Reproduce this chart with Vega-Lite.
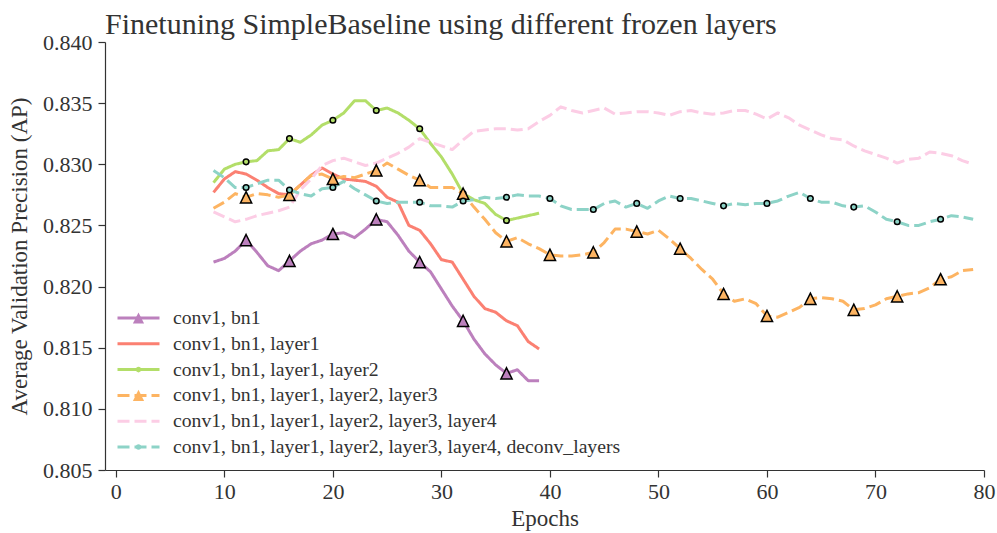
{
  "$schema": "https://vega.github.io/schema/vega-lite/v6.json",
  "width": 879,
  "height": 428,
  "autosize": {"type": "none"},
  "padding": {"left": 105, "top": 42, "right": 13, "bottom": 63},
  "background": "white",
  "title": {
    "text": "Finetuning SimpleBaseline using different frozen layers",
    "anchor": "start",
    "frame": "group",
    "font": "Liberation Serif",
    "fontSize": 30,
    "fontWeight": "normal",
    "color": "#333333",
    "offset": -9
  },
  "config": {
    "view": {"stroke": null},
    "axis": {
      "grid": false,
      "domainColor": "#333333",
      "domainWidth": 1.2,
      "tickColor": "#333333",
      "tickWidth": 1.2,
      "tickSize": 7,
      "labelFont": "Liberation Serif",
      "labelFontSize": 22,
      "labelColor": "#333333",
      "titleFont": "Liberation Serif",
      "titleFontSize": 23,
      "titleFontWeight": "normal",
      "titleColor": "#333333"
    }
  },
  "datasets": {
    "runs": [
      {"series": "conv1, bn1", "epoch": 9, "ap": 0.8220},
      {"series": "conv1, bn1", "epoch": 10, "ap": 0.8223},
      {"series": "conv1, bn1", "epoch": 11, "ap": 0.8229},
      {"series": "conv1, bn1", "epoch": 12, "ap": 0.8238},
      {"series": "conv1, bn1", "epoch": 13, "ap": 0.8228},
      {"series": "conv1, bn1", "epoch": 14, "ap": 0.8217},
      {"series": "conv1, bn1", "epoch": 15, "ap": 0.8213},
      {"series": "conv1, bn1", "epoch": 16, "ap": 0.8221},
      {"series": "conv1, bn1", "epoch": 17, "ap": 0.8229},
      {"series": "conv1, bn1", "epoch": 18, "ap": 0.8235},
      {"series": "conv1, bn1", "epoch": 19, "ap": 0.8238},
      {"series": "conv1, bn1", "epoch": 20, "ap": 0.8243},
      {"series": "conv1, bn1", "epoch": 21, "ap": 0.8244},
      {"series": "conv1, bn1", "epoch": 22, "ap": 0.8240},
      {"series": "conv1, bn1", "epoch": 23, "ap": 0.8247},
      {"series": "conv1, bn1", "epoch": 24, "ap": 0.8255},
      {"series": "conv1, bn1", "epoch": 25, "ap": 0.8253},
      {"series": "conv1, bn1", "epoch": 26, "ap": 0.8242},
      {"series": "conv1, bn1", "epoch": 27, "ap": 0.8229},
      {"series": "conv1, bn1", "epoch": 28, "ap": 0.8220},
      {"series": "conv1, bn1", "epoch": 29, "ap": 0.8212},
      {"series": "conv1, bn1", "epoch": 30, "ap": 0.8198},
      {"series": "conv1, bn1", "epoch": 31, "ap": 0.8184},
      {"series": "conv1, bn1", "epoch": 32, "ap": 0.8172},
      {"series": "conv1, bn1", "epoch": 33, "ap": 0.8157},
      {"series": "conv1, bn1", "epoch": 34, "ap": 0.8145},
      {"series": "conv1, bn1", "epoch": 35, "ap": 0.8136},
      {"series": "conv1, bn1", "epoch": 36, "ap": 0.8129},
      {"series": "conv1, bn1", "epoch": 37, "ap": 0.8132},
      {"series": "conv1, bn1", "epoch": 38, "ap": 0.8123},
      {"series": "conv1, bn1", "epoch": 39, "ap": 0.8123},

      {"series": "conv1, bn1, layer1", "epoch": 9, "ap": 0.8277},
      {"series": "conv1, bn1, layer1", "epoch": 10, "ap": 0.8288},
      {"series": "conv1, bn1, layer1", "epoch": 11, "ap": 0.8294},
      {"series": "conv1, bn1, layer1", "epoch": 12, "ap": 0.8292},
      {"series": "conv1, bn1, layer1", "epoch": 13, "ap": 0.8287},
      {"series": "conv1, bn1, layer1", "epoch": 14, "ap": 0.8281},
      {"series": "conv1, bn1, layer1", "epoch": 15, "ap": 0.8276},
      {"series": "conv1, bn1, layer1", "epoch": 16, "ap": 0.8275},
      {"series": "conv1, bn1, layer1", "epoch": 17, "ap": 0.8283},
      {"series": "conv1, bn1, layer1", "epoch": 18, "ap": 0.8291},
      {"series": "conv1, bn1, layer1", "epoch": 19, "ap": 0.8297},
      {"series": "conv1, bn1, layer1", "epoch": 20, "ap": 0.8292},
      {"series": "conv1, bn1, layer1", "epoch": 21, "ap": 0.8288},
      {"series": "conv1, bn1, layer1", "epoch": 22, "ap": 0.8287},
      {"series": "conv1, bn1, layer1", "epoch": 23, "ap": 0.8286},
      {"series": "conv1, bn1, layer1", "epoch": 24, "ap": 0.8282},
      {"series": "conv1, bn1, layer1", "epoch": 25, "ap": 0.8273},
      {"series": "conv1, bn1, layer1", "epoch": 26, "ap": 0.8269},
      {"series": "conv1, bn1, layer1", "epoch": 27, "ap": 0.8250},
      {"series": "conv1, bn1, layer1", "epoch": 28, "ap": 0.8246},
      {"series": "conv1, bn1, layer1", "epoch": 29, "ap": 0.8235},
      {"series": "conv1, bn1, layer1", "epoch": 30, "ap": 0.8222},
      {"series": "conv1, bn1, layer1", "epoch": 31, "ap": 0.8220},
      {"series": "conv1, bn1, layer1", "epoch": 32, "ap": 0.8206},
      {"series": "conv1, bn1, layer1", "epoch": 33, "ap": 0.8192},
      {"series": "conv1, bn1, layer1", "epoch": 34, "ap": 0.8182},
      {"series": "conv1, bn1, layer1", "epoch": 35, "ap": 0.8179},
      {"series": "conv1, bn1, layer1", "epoch": 36, "ap": 0.8172},
      {"series": "conv1, bn1, layer1", "epoch": 37, "ap": 0.8168},
      {"series": "conv1, bn1, layer1", "epoch": 38, "ap": 0.8155},
      {"series": "conv1, bn1, layer1", "epoch": 39, "ap": 0.8149},

      {"series": "conv1, bn1, layer1, layer2", "epoch": 9, "ap": 0.8285},
      {"series": "conv1, bn1, layer1, layer2", "epoch": 10, "ap": 0.8296},
      {"series": "conv1, bn1, layer1, layer2", "epoch": 11, "ap": 0.8300},
      {"series": "conv1, bn1, layer1, layer2", "epoch": 12, "ap": 0.8302},
      {"series": "conv1, bn1, layer1, layer2", "epoch": 13, "ap": 0.8303},
      {"series": "conv1, bn1, layer1, layer2", "epoch": 14, "ap": 0.8311},
      {"series": "conv1, bn1, layer1, layer2", "epoch": 15, "ap": 0.8312},
      {"series": "conv1, bn1, layer1, layer2", "epoch": 16, "ap": 0.8321},
      {"series": "conv1, bn1, layer1, layer2", "epoch": 17, "ap": 0.8318},
      {"series": "conv1, bn1, layer1, layer2", "epoch": 18, "ap": 0.8324},
      {"series": "conv1, bn1, layer1, layer2", "epoch": 19, "ap": 0.8332},
      {"series": "conv1, bn1, layer1, layer2", "epoch": 20, "ap": 0.8336},
      {"series": "conv1, bn1, layer1, layer2", "epoch": 21, "ap": 0.8342},
      {"series": "conv1, bn1, layer1, layer2", "epoch": 22, "ap": 0.8352},
      {"series": "conv1, bn1, layer1, layer2", "epoch": 23, "ap": 0.8352},
      {"series": "conv1, bn1, layer1, layer2", "epoch": 24, "ap": 0.8344},
      {"series": "conv1, bn1, layer1, layer2", "epoch": 25, "ap": 0.8346},
      {"series": "conv1, bn1, layer1, layer2", "epoch": 26, "ap": 0.8342},
      {"series": "conv1, bn1, layer1, layer2", "epoch": 27, "ap": 0.8336},
      {"series": "conv1, bn1, layer1, layer2", "epoch": 28, "ap": 0.8329},
      {"series": "conv1, bn1, layer1, layer2", "epoch": 29, "ap": 0.8317},
      {"series": "conv1, bn1, layer1, layer2", "epoch": 30, "ap": 0.8306},
      {"series": "conv1, bn1, layer1, layer2", "epoch": 31, "ap": 0.8292},
      {"series": "conv1, bn1, layer1, layer2", "epoch": 32, "ap": 0.8276},
      {"series": "conv1, bn1, layer1, layer2", "epoch": 33, "ap": 0.8271},
      {"series": "conv1, bn1, layer1, layer2", "epoch": 34, "ap": 0.8268},
      {"series": "conv1, bn1, layer1, layer2", "epoch": 35, "ap": 0.8259},
      {"series": "conv1, bn1, layer1, layer2", "epoch": 36, "ap": 0.8254},
      {"series": "conv1, bn1, layer1, layer2", "epoch": 37, "ap": 0.8256},
      {"series": "conv1, bn1, layer1, layer2", "epoch": 38, "ap": 0.8258},
      {"series": "conv1, bn1, layer1, layer2", "epoch": 39, "ap": 0.8260},

      {"series": "conv1, bn1, layer1, layer2, layer3", "epoch": 9, "ap": 0.8264},
      {"series": "conv1, bn1, layer1, layer2, layer3", "epoch": 10, "ap": 0.8269},
      {"series": "conv1, bn1, layer1, layer2, layer3", "epoch": 11, "ap": 0.8276},
      {"series": "conv1, bn1, layer1, layer2, layer3", "epoch": 12, "ap": 0.8273},
      {"series": "conv1, bn1, layer1, layer2, layer3", "epoch": 13, "ap": 0.8276},
      {"series": "conv1, bn1, layer1, layer2, layer3", "epoch": 14, "ap": 0.8275},
      {"series": "conv1, bn1, layer1, layer2, layer3", "epoch": 15, "ap": 0.8273},
      {"series": "conv1, bn1, layer1, layer2, layer3", "epoch": 16, "ap": 0.8275},
      {"series": "conv1, bn1, layer1, layer2, layer3", "epoch": 17, "ap": 0.8283},
      {"series": "conv1, bn1, layer1, layer2, layer3", "epoch": 18, "ap": 0.8291},
      {"series": "conv1, bn1, layer1, layer2, layer3", "epoch": 19, "ap": 0.8292},
      {"series": "conv1, bn1, layer1, layer2, layer3", "epoch": 20, "ap": 0.8288},
      {"series": "conv1, bn1, layer1, layer2, layer3", "epoch": 21, "ap": 0.8290},
      {"series": "conv1, bn1, layer1, layer2, layer3", "epoch": 22, "ap": 0.8289},
      {"series": "conv1, bn1, layer1, layer2, layer3", "epoch": 23, "ap": 0.8292},
      {"series": "conv1, bn1, layer1, layer2, layer3", "epoch": 24, "ap": 0.8295},
      {"series": "conv1, bn1, layer1, layer2, layer3", "epoch": 25, "ap": 0.8301},
      {"series": "conv1, bn1, layer1, layer2, layer3", "epoch": 26, "ap": 0.8296},
      {"series": "conv1, bn1, layer1, layer2, layer3", "epoch": 27, "ap": 0.8291},
      {"series": "conv1, bn1, layer1, layer2, layer3", "epoch": 28, "ap": 0.8287},
      {"series": "conv1, bn1, layer1, layer2, layer3", "epoch": 29, "ap": 0.8281},
      {"series": "conv1, bn1, layer1, layer2, layer3", "epoch": 30, "ap": 0.8281},
      {"series": "conv1, bn1, layer1, layer2, layer3", "epoch": 31, "ap": 0.8281},
      {"series": "conv1, bn1, layer1, layer2, layer3", "epoch": 32, "ap": 0.8276},
      {"series": "conv1, bn1, layer1, layer2, layer3", "epoch": 33, "ap": 0.8265},
      {"series": "conv1, bn1, layer1, layer2, layer3", "epoch": 34, "ap": 0.8255},
      {"series": "conv1, bn1, layer1, layer2, layer3", "epoch": 35, "ap": 0.8244},
      {"series": "conv1, bn1, layer1, layer2, layer3", "epoch": 36, "ap": 0.8237},
      {"series": "conv1, bn1, layer1, layer2, layer3", "epoch": 37, "ap": 0.8240},
      {"series": "conv1, bn1, layer1, layer2, layer3", "epoch": 38, "ap": 0.8235},
      {"series": "conv1, bn1, layer1, layer2, layer3", "epoch": 39, "ap": 0.8231},
      {"series": "conv1, bn1, layer1, layer2, layer3", "epoch": 40, "ap": 0.8226},
      {"series": "conv1, bn1, layer1, layer2, layer3", "epoch": 41, "ap": 0.8225},
      {"series": "conv1, bn1, layer1, layer2, layer3", "epoch": 42, "ap": 0.8225},
      {"series": "conv1, bn1, layer1, layer2, layer3", "epoch": 43, "ap": 0.8226},
      {"series": "conv1, bn1, layer1, layer2, layer3", "epoch": 44, "ap": 0.8228},
      {"series": "conv1, bn1, layer1, layer2, layer3", "epoch": 45, "ap": 0.8236},
      {"series": "conv1, bn1, layer1, layer2, layer3", "epoch": 46, "ap": 0.8247},
      {"series": "conv1, bn1, layer1, layer2, layer3", "epoch": 47, "ap": 0.8247},
      {"series": "conv1, bn1, layer1, layer2, layer3", "epoch": 48, "ap": 0.8245},
      {"series": "conv1, bn1, layer1, layer2, layer3", "epoch": 49, "ap": 0.8243},
      {"series": "conv1, bn1, layer1, layer2, layer3", "epoch": 50, "ap": 0.8246},
      {"series": "conv1, bn1, layer1, layer2, layer3", "epoch": 51, "ap": 0.8239},
      {"series": "conv1, bn1, layer1, layer2, layer3", "epoch": 52, "ap": 0.8231},
      {"series": "conv1, bn1, layer1, layer2, layer3", "epoch": 53, "ap": 0.8223},
      {"series": "conv1, bn1, layer1, layer2, layer3", "epoch": 54, "ap": 0.8214},
      {"series": "conv1, bn1, layer1, layer2, layer3", "epoch": 55, "ap": 0.8206},
      {"series": "conv1, bn1, layer1, layer2, layer3", "epoch": 56, "ap": 0.8194},
      {"series": "conv1, bn1, layer1, layer2, layer3", "epoch": 57, "ap": 0.8188},
      {"series": "conv1, bn1, layer1, layer2, layer3", "epoch": 58, "ap": 0.8190},
      {"series": "conv1, bn1, layer1, layer2, layer3", "epoch": 59, "ap": 0.8186},
      {"series": "conv1, bn1, layer1, layer2, layer3", "epoch": 60, "ap": 0.8176},
      {"series": "conv1, bn1, layer1, layer2, layer3", "epoch": 61, "ap": 0.8175},
      {"series": "conv1, bn1, layer1, layer2, layer3", "epoch": 62, "ap": 0.8179},
      {"series": "conv1, bn1, layer1, layer2, layer3", "epoch": 63, "ap": 0.8183},
      {"series": "conv1, bn1, layer1, layer2, layer3", "epoch": 64, "ap": 0.8190},
      {"series": "conv1, bn1, layer1, layer2, layer3", "epoch": 65, "ap": 0.8191},
      {"series": "conv1, bn1, layer1, layer2, layer3", "epoch": 66, "ap": 0.8190},
      {"series": "conv1, bn1, layer1, layer2, layer3", "epoch": 67, "ap": 0.8188},
      {"series": "conv1, bn1, layer1, layer2, layer3", "epoch": 68, "ap": 0.8181},
      {"series": "conv1, bn1, layer1, layer2, layer3", "epoch": 69, "ap": 0.8182},
      {"series": "conv1, bn1, layer1, layer2, layer3", "epoch": 70, "ap": 0.8185},
      {"series": "conv1, bn1, layer1, layer2, layer3", "epoch": 71, "ap": 0.8190},
      {"series": "conv1, bn1, layer1, layer2, layer3", "epoch": 72, "ap": 0.8192},
      {"series": "conv1, bn1, layer1, layer2, layer3", "epoch": 73, "ap": 0.8194},
      {"series": "conv1, bn1, layer1, layer2, layer3", "epoch": 74, "ap": 0.8195},
      {"series": "conv1, bn1, layer1, layer2, layer3", "epoch": 75, "ap": 0.8199},
      {"series": "conv1, bn1, layer1, layer2, layer3", "epoch": 76, "ap": 0.8206},
      {"series": "conv1, bn1, layer1, layer2, layer3", "epoch": 77, "ap": 0.8208},
      {"series": "conv1, bn1, layer1, layer2, layer3", "epoch": 78, "ap": 0.8213},
      {"series": "conv1, bn1, layer1, layer2, layer3", "epoch": 79, "ap": 0.8214},

      {"series": "conv1, bn1, layer1, layer2, layer3, layer4", "epoch": 9, "ap": 0.8261},
      {"series": "conv1, bn1, layer1, layer2, layer3, layer4", "epoch": 10, "ap": 0.8257},
      {"series": "conv1, bn1, layer1, layer2, layer3, layer4", "epoch": 11, "ap": 0.8253},
      {"series": "conv1, bn1, layer1, layer2, layer3, layer4", "epoch": 12, "ap": 0.8255},
      {"series": "conv1, bn1, layer1, layer2, layer3, layer4", "epoch": 13, "ap": 0.8258},
      {"series": "conv1, bn1, layer1, layer2, layer3, layer4", "epoch": 14, "ap": 0.8260},
      {"series": "conv1, bn1, layer1, layer2, layer3, layer4", "epoch": 15, "ap": 0.8262},
      {"series": "conv1, bn1, layer1, layer2, layer3, layer4", "epoch": 16, "ap": 0.8265},
      {"series": "conv1, bn1, layer1, layer2, layer3, layer4", "epoch": 17, "ap": 0.8279},
      {"series": "conv1, bn1, layer1, layer2, layer3, layer4", "epoch": 18, "ap": 0.8288},
      {"series": "conv1, bn1, layer1, layer2, layer3, layer4", "epoch": 19, "ap": 0.8299},
      {"series": "conv1, bn1, layer1, layer2, layer3, layer4", "epoch": 20, "ap": 0.8303},
      {"series": "conv1, bn1, layer1, layer2, layer3, layer4", "epoch": 21, "ap": 0.8305},
      {"series": "conv1, bn1, layer1, layer2, layer3, layer4", "epoch": 22, "ap": 0.8302},
      {"series": "conv1, bn1, layer1, layer2, layer3, layer4", "epoch": 23, "ap": 0.8299},
      {"series": "conv1, bn1, layer1, layer2, layer3, layer4", "epoch": 24, "ap": 0.8301},
      {"series": "conv1, bn1, layer1, layer2, layer3, layer4", "epoch": 25, "ap": 0.8305},
      {"series": "conv1, bn1, layer1, layer2, layer3, layer4", "epoch": 26, "ap": 0.8309},
      {"series": "conv1, bn1, layer1, layer2, layer3, layer4", "epoch": 27, "ap": 0.8314},
      {"series": "conv1, bn1, layer1, layer2, layer3, layer4", "epoch": 28, "ap": 0.8321},
      {"series": "conv1, bn1, layer1, layer2, layer3, layer4", "epoch": 29, "ap": 0.8318},
      {"series": "conv1, bn1, layer1, layer2, layer3, layer4", "epoch": 30, "ap": 0.8315},
      {"series": "conv1, bn1, layer1, layer2, layer3, layer4", "epoch": 31, "ap": 0.8312},
      {"series": "conv1, bn1, layer1, layer2, layer3, layer4", "epoch": 32, "ap": 0.8320},
      {"series": "conv1, bn1, layer1, layer2, layer3, layer4", "epoch": 33, "ap": 0.8327},
      {"series": "conv1, bn1, layer1, layer2, layer3, layer4", "epoch": 34, "ap": 0.8328},
      {"series": "conv1, bn1, layer1, layer2, layer3, layer4", "epoch": 35, "ap": 0.8329},
      {"series": "conv1, bn1, layer1, layer2, layer3, layer4", "epoch": 36, "ap": 0.8329},
      {"series": "conv1, bn1, layer1, layer2, layer3, layer4", "epoch": 37, "ap": 0.8328},
      {"series": "conv1, bn1, layer1, layer2, layer3, layer4", "epoch": 38, "ap": 0.8329},
      {"series": "conv1, bn1, layer1, layer2, layer3, layer4", "epoch": 39, "ap": 0.8335},
      {"series": "conv1, bn1, layer1, layer2, layer3, layer4", "epoch": 40, "ap": 0.8340},
      {"series": "conv1, bn1, layer1, layer2, layer3, layer4", "epoch": 41, "ap": 0.8347},
      {"series": "conv1, bn1, layer1, layer2, layer3, layer4", "epoch": 42, "ap": 0.8344},
      {"series": "conv1, bn1, layer1, layer2, layer3, layer4", "epoch": 43, "ap": 0.8342},
      {"series": "conv1, bn1, layer1, layer2, layer3, layer4", "epoch": 44, "ap": 0.8344},
      {"series": "conv1, bn1, layer1, layer2, layer3, layer4", "epoch": 45, "ap": 0.8346},
      {"series": "conv1, bn1, layer1, layer2, layer3, layer4", "epoch": 46, "ap": 0.8341},
      {"series": "conv1, bn1, layer1, layer2, layer3, layer4", "epoch": 47, "ap": 0.8342},
      {"series": "conv1, bn1, layer1, layer2, layer3, layer4", "epoch": 48, "ap": 0.8343},
      {"series": "conv1, bn1, layer1, layer2, layer3, layer4", "epoch": 49, "ap": 0.8343},
      {"series": "conv1, bn1, layer1, layer2, layer3, layer4", "epoch": 50, "ap": 0.8342},
      {"series": "conv1, bn1, layer1, layer2, layer3, layer4", "epoch": 51, "ap": 0.8340},
      {"series": "conv1, bn1, layer1, layer2, layer3, layer4", "epoch": 52, "ap": 0.8343},
      {"series": "conv1, bn1, layer1, layer2, layer3, layer4", "epoch": 53, "ap": 0.8344},
      {"series": "conv1, bn1, layer1, layer2, layer3, layer4", "epoch": 54, "ap": 0.8342},
      {"series": "conv1, bn1, layer1, layer2, layer3, layer4", "epoch": 55, "ap": 0.8341},
      {"series": "conv1, bn1, layer1, layer2, layer3, layer4", "epoch": 56, "ap": 0.8342},
      {"series": "conv1, bn1, layer1, layer2, layer3, layer4", "epoch": 57, "ap": 0.8344},
      {"series": "conv1, bn1, layer1, layer2, layer3, layer4", "epoch": 58, "ap": 0.8344},
      {"series": "conv1, bn1, layer1, layer2, layer3, layer4", "epoch": 59, "ap": 0.8341},
      {"series": "conv1, bn1, layer1, layer2, layer3, layer4", "epoch": 60, "ap": 0.8337},
      {"series": "conv1, bn1, layer1, layer2, layer3, layer4", "epoch": 61, "ap": 0.8342},
      {"series": "conv1, bn1, layer1, layer2, layer3, layer4", "epoch": 62, "ap": 0.8338},
      {"series": "conv1, bn1, layer1, layer2, layer3, layer4", "epoch": 63, "ap": 0.8332},
      {"series": "conv1, bn1, layer1, layer2, layer3, layer4", "epoch": 64, "ap": 0.8328},
      {"series": "conv1, bn1, layer1, layer2, layer3, layer4", "epoch": 65, "ap": 0.8324},
      {"series": "conv1, bn1, layer1, layer2, layer3, layer4", "epoch": 66, "ap": 0.8321},
      {"series": "conv1, bn1, layer1, layer2, layer3, layer4", "epoch": 67, "ap": 0.8320},
      {"series": "conv1, bn1, layer1, layer2, layer3, layer4", "epoch": 68, "ap": 0.8315},
      {"series": "conv1, bn1, layer1, layer2, layer3, layer4", "epoch": 69, "ap": 0.8311},
      {"series": "conv1, bn1, layer1, layer2, layer3, layer4", "epoch": 70, "ap": 0.8308},
      {"series": "conv1, bn1, layer1, layer2, layer3, layer4", "epoch": 71, "ap": 0.8305},
      {"series": "conv1, bn1, layer1, layer2, layer3, layer4", "epoch": 72, "ap": 0.8301},
      {"series": "conv1, bn1, layer1, layer2, layer3, layer4", "epoch": 73, "ap": 0.8304},
      {"series": "conv1, bn1, layer1, layer2, layer3, layer4", "epoch": 74, "ap": 0.8305},
      {"series": "conv1, bn1, layer1, layer2, layer3, layer4", "epoch": 75, "ap": 0.8310},
      {"series": "conv1, bn1, layer1, layer2, layer3, layer4", "epoch": 76, "ap": 0.8309},
      {"series": "conv1, bn1, layer1, layer2, layer3, layer4", "epoch": 77, "ap": 0.8307},
      {"series": "conv1, bn1, layer1, layer2, layer3, layer4", "epoch": 78, "ap": 0.8303},
      {"series": "conv1, bn1, layer1, layer2, layer3, layer4", "epoch": 79, "ap": 0.8300},

      {"series": "conv1, bn1, layer1, layer2, layer3, layer4, deconv_layers", "epoch": 9, "ap": 0.8295},
      {"series": "conv1, bn1, layer1, layer2, layer3, layer4, deconv_layers", "epoch": 10, "ap": 0.8289},
      {"series": "conv1, bn1, layer1, layer2, layer3, layer4, deconv_layers", "epoch": 11, "ap": 0.8281},
      {"series": "conv1, bn1, layer1, layer2, layer3, layer4, deconv_layers", "epoch": 12, "ap": 0.8281},
      {"series": "conv1, bn1, layer1, layer2, layer3, layer4, deconv_layers", "epoch": 13, "ap": 0.8284},
      {"series": "conv1, bn1, layer1, layer2, layer3, layer4, deconv_layers", "epoch": 14, "ap": 0.8287},
      {"series": "conv1, bn1, layer1, layer2, layer3, layer4, deconv_layers", "epoch": 15, "ap": 0.8287},
      {"series": "conv1, bn1, layer1, layer2, layer3, layer4, deconv_layers", "epoch": 16, "ap": 0.8279},
      {"series": "conv1, bn1, layer1, layer2, layer3, layer4, deconv_layers", "epoch": 17, "ap": 0.8276},
      {"series": "conv1, bn1, layer1, layer2, layer3, layer4, deconv_layers", "epoch": 18, "ap": 0.8274},
      {"series": "conv1, bn1, layer1, layer2, layer3, layer4, deconv_layers", "epoch": 19, "ap": 0.8280},
      {"series": "conv1, bn1, layer1, layer2, layer3, layer4, deconv_layers", "epoch": 20, "ap": 0.8281},
      {"series": "conv1, bn1, layer1, layer2, layer3, layer4, deconv_layers", "epoch": 21, "ap": 0.8286},
      {"series": "conv1, bn1, layer1, layer2, layer3, layer4, deconv_layers", "epoch": 22, "ap": 0.8280},
      {"series": "conv1, bn1, layer1, layer2, layer3, layer4, deconv_layers", "epoch": 23, "ap": 0.8275},
      {"series": "conv1, bn1, layer1, layer2, layer3, layer4, deconv_layers", "epoch": 24, "ap": 0.8270},
      {"series": "conv1, bn1, layer1, layer2, layer3, layer4, deconv_layers", "epoch": 25, "ap": 0.8268},
      {"series": "conv1, bn1, layer1, layer2, layer3, layer4, deconv_layers", "epoch": 26, "ap": 0.8269},
      {"series": "conv1, bn1, layer1, layer2, layer3, layer4, deconv_layers", "epoch": 27, "ap": 0.8269},
      {"series": "conv1, bn1, layer1, layer2, layer3, layer4, deconv_layers", "epoch": 28, "ap": 0.8269},
      {"series": "conv1, bn1, layer1, layer2, layer3, layer4, deconv_layers", "epoch": 29, "ap": 0.8266},
      {"series": "conv1, bn1, layer1, layer2, layer3, layer4, deconv_layers", "epoch": 30, "ap": 0.8266},
      {"series": "conv1, bn1, layer1, layer2, layer3, layer4, deconv_layers", "epoch": 31, "ap": 0.8265},
      {"series": "conv1, bn1, layer1, layer2, layer3, layer4, deconv_layers", "epoch": 32, "ap": 0.8270},
      {"series": "conv1, bn1, layer1, layer2, layer3, layer4, deconv_layers", "epoch": 33, "ap": 0.8271},
      {"series": "conv1, bn1, layer1, layer2, layer3, layer4, deconv_layers", "epoch": 34, "ap": 0.8273},
      {"series": "conv1, bn1, layer1, layer2, layer3, layer4, deconv_layers", "epoch": 35, "ap": 0.8272},
      {"series": "conv1, bn1, layer1, layer2, layer3, layer4, deconv_layers", "epoch": 36, "ap": 0.8273},
      {"series": "conv1, bn1, layer1, layer2, layer3, layer4, deconv_layers", "epoch": 37, "ap": 0.8275},
      {"series": "conv1, bn1, layer1, layer2, layer3, layer4, deconv_layers", "epoch": 38, "ap": 0.8274},
      {"series": "conv1, bn1, layer1, layer2, layer3, layer4, deconv_layers", "epoch": 39, "ap": 0.8274},
      {"series": "conv1, bn1, layer1, layer2, layer3, layer4, deconv_layers", "epoch": 40, "ap": 0.8272},
      {"series": "conv1, bn1, layer1, layer2, layer3, layer4, deconv_layers", "epoch": 41, "ap": 0.8266},
      {"series": "conv1, bn1, layer1, layer2, layer3, layer4, deconv_layers", "epoch": 42, "ap": 0.8263},
      {"series": "conv1, bn1, layer1, layer2, layer3, layer4, deconv_layers", "epoch": 43, "ap": 0.8263},
      {"series": "conv1, bn1, layer1, layer2, layer3, layer4, deconv_layers", "epoch": 44, "ap": 0.8263},
      {"series": "conv1, bn1, layer1, layer2, layer3, layer4, deconv_layers", "epoch": 45, "ap": 0.8268},
      {"series": "conv1, bn1, layer1, layer2, layer3, layer4, deconv_layers", "epoch": 46, "ap": 0.8270},
      {"series": "conv1, bn1, layer1, layer2, layer3, layer4, deconv_layers", "epoch": 47, "ap": 0.8265},
      {"series": "conv1, bn1, layer1, layer2, layer3, layer4, deconv_layers", "epoch": 48, "ap": 0.8268},
      {"series": "conv1, bn1, layer1, layer2, layer3, layer4, deconv_layers", "epoch": 49, "ap": 0.8264},
      {"series": "conv1, bn1, layer1, layer2, layer3, layer4, deconv_layers", "epoch": 50, "ap": 0.8270},
      {"series": "conv1, bn1, layer1, layer2, layer3, layer4, deconv_layers", "epoch": 51, "ap": 0.8274},
      {"series": "conv1, bn1, layer1, layer2, layer3, layer4, deconv_layers", "epoch": 52, "ap": 0.8272},
      {"series": "conv1, bn1, layer1, layer2, layer3, layer4, deconv_layers", "epoch": 53, "ap": 0.8272},
      {"series": "conv1, bn1, layer1, layer2, layer3, layer4, deconv_layers", "epoch": 54, "ap": 0.8270},
      {"series": "conv1, bn1, layer1, layer2, layer3, layer4, deconv_layers", "epoch": 55, "ap": 0.8268},
      {"series": "conv1, bn1, layer1, layer2, layer3, layer4, deconv_layers", "epoch": 56, "ap": 0.8266},
      {"series": "conv1, bn1, layer1, layer2, layer3, layer4, deconv_layers", "epoch": 57, "ap": 0.8268},
      {"series": "conv1, bn1, layer1, layer2, layer3, layer4, deconv_layers", "epoch": 58, "ap": 0.8267},
      {"series": "conv1, bn1, layer1, layer2, layer3, layer4, deconv_layers", "epoch": 59, "ap": 0.8268},
      {"series": "conv1, bn1, layer1, layer2, layer3, layer4, deconv_layers", "epoch": 60, "ap": 0.8268},
      {"series": "conv1, bn1, layer1, layer2, layer3, layer4, deconv_layers", "epoch": 61, "ap": 0.8270},
      {"series": "conv1, bn1, layer1, layer2, layer3, layer4, deconv_layers", "epoch": 62, "ap": 0.8274},
      {"series": "conv1, bn1, layer1, layer2, layer3, layer4, deconv_layers", "epoch": 63, "ap": 0.8277},
      {"series": "conv1, bn1, layer1, layer2, layer3, layer4, deconv_layers", "epoch": 64, "ap": 0.8272},
      {"series": "conv1, bn1, layer1, layer2, layer3, layer4, deconv_layers", "epoch": 65, "ap": 0.8269},
      {"series": "conv1, bn1, layer1, layer2, layer3, layer4, deconv_layers", "epoch": 66, "ap": 0.8269},
      {"series": "conv1, bn1, layer1, layer2, layer3, layer4, deconv_layers", "epoch": 67, "ap": 0.8266},
      {"series": "conv1, bn1, layer1, layer2, layer3, layer4, deconv_layers", "epoch": 68, "ap": 0.8265},
      {"series": "conv1, bn1, layer1, layer2, layer3, layer4, deconv_layers", "epoch": 69, "ap": 0.8266},
      {"series": "conv1, bn1, layer1, layer2, layer3, layer4, deconv_layers", "epoch": 70, "ap": 0.8261},
      {"series": "conv1, bn1, layer1, layer2, layer3, layer4, deconv_layers", "epoch": 71, "ap": 0.8255},
      {"series": "conv1, bn1, layer1, layer2, layer3, layer4, deconv_layers", "epoch": 72, "ap": 0.8253},
      {"series": "conv1, bn1, layer1, layer2, layer3, layer4, deconv_layers", "epoch": 73, "ap": 0.8250},
      {"series": "conv1, bn1, layer1, layer2, layer3, layer4, deconv_layers", "epoch": 74, "ap": 0.8250},
      {"series": "conv1, bn1, layer1, layer2, layer3, layer4, deconv_layers", "epoch": 75, "ap": 0.8253},
      {"series": "conv1, bn1, layer1, layer2, layer3, layer4, deconv_layers", "epoch": 76, "ap": 0.8255},
      {"series": "conv1, bn1, layer1, layer2, layer3, layer4, deconv_layers", "epoch": 77, "ap": 0.8258},
      {"series": "conv1, bn1, layer1, layer2, layer3, layer4, deconv_layers", "epoch": 78, "ap": 0.8257},
      {"series": "conv1, bn1, layer1, layer2, layer3, layer4, deconv_layers", "epoch": 79, "ap": 0.8255}
    ]
  },
  "data": {"name": "runs"},
  "encoding": {
    "x": {
      "field": "epoch",
      "type": "quantitative",
      "scale": {"domain": [-1, 80], "nice": false, "zero": false},
      "axis": {
        "values": [0, 10, 20, 30, 40, 50, 60, 70, 80],
        "title": "Epochs",
        "labelPadding": 4,
        "titlePadding": 5,
        "labelFlush": false
      }
    },
    "y": {
      "field": "ap",
      "type": "quantitative",
      "scale": {"domain": [0.805, 0.84], "nice": false, "zero": false},
      "axis": {
        "values": [0.805, 0.81, 0.815, 0.82, 0.825, 0.83, 0.835, 0.84],
        "format": ".3f",
        "title": "Average Validation Precision (AP)",
        "labelPadding": 6,
        "titlePadding": 11,
        "labelFlush": false
      }
    }
  },
  "layer": [
    {
      "mark": {"type": "line", "strokeWidth": 3, "strokeCap": "butt", "strokeJoin": "round"},
      "encoding": {
        "color": {
          "field": "series",
          "type": "nominal",
          "scale": {"range": ["#bc80bd", "#fb8072", "#b3de69", "#fdb462", "#fccde5", "#8dd3c7"]},
          "legend": {
            "title": null,
            "orient": "none",
            "legendX": 11,
            "legendY": 265,
            "padding": 0,
            "symbolType": "stroke",
            "symbolSize": 1764,
            "symbolStrokeWidth": 3,
            "labelFont": "Liberation Serif",
            "labelFontSize": 19.7,
            "labelColor": "#333333",
            "labelOffset": 12,
            "labelLimit": 0,
            "clipHeight": 22,
            "rowPadding": 3.8
          }
        },
        "strokeDash": {
          "field": "series",
          "type": "nominal",
          "scale": {"range": [[1, 0], [1, 0], [1, 0], [12, 5], [12, 5], [12, 5]]},
          "legend": {
            "title": null,
            "orient": "none",
            "legendX": 11,
            "legendY": 265,
            "padding": 0,
            "symbolType": "stroke",
            "symbolSize": 1764,
            "symbolStrokeWidth": 3,
            "labelFont": "Liberation Serif",
            "labelFontSize": 19.7,
            "labelColor": "#333333",
            "labelOffset": 12,
            "labelLimit": 0,
            "clipHeight": 22,
            "rowPadding": 3.8
          }
        }
      }
    },
    {
      "transform": [{"filter": "datum.epoch % 4 == 0 && datum.epoch >= 12"}],
      "mark": {"type": "point", "filled": true, "opacity": 1, "stroke": "black", "strokeWidth": 1.5, "size": 196},
      "encoding": {
        "shape": {
          "field": "series",
          "type": "nominal",
          "scale": {
            "domain": ["conv1, bn1", "conv1, bn1, layer1", "conv1, bn1, layer1, layer2", "conv1, bn1, layer1, layer2, layer3", "conv1, bn1, layer1, layer2, layer3, layer4", "conv1, bn1, layer1, layer2, layer3, layer4, deconv_layers"],
            "range": [
              "M0,-0.8L0.8,0.8L-0.8,0.8Z",
              "M0,0",
              "M0.4,0A0.4,0.4,0,1,1,-0.4,0A0.4,0.4,0,1,1,0.4,0Z",
              "M0,-0.8L0.8,0.8L-0.8,0.8Z",
              "M0,0",
              "M0.4,0A0.4,0.4,0,1,1,-0.4,0A0.4,0.4,0,1,1,0.4,0Z"
            ]
          },
          "legend": {
            "title": null,
            "orient": "none",
            "legendX": 11,
            "legendY": 265,
            "padding": 0,
            "symbolSize": 196,
            "symbolStrokeWidth": 1.5,
            "symbolStrokeColor": "black",
            "symbolOffset": 12.5,
            "labelFontSize": 20,
            "labelExpr": "''",
            "clipHeight": 22,
            "rowPadding": 3.8,
            "encode": {
              "symbols": {
                "update": {
                  "stroke": {"value": "black"},
                  "strokeWidth": {"value": 1.5},
                  "opacity": {"value": 1}
                }
              }
            }
          }
        },
        "fill": {
          "field": "series",
          "type": "nominal",
          "scale": {
            "domain": ["conv1, bn1", "conv1, bn1, layer1", "conv1, bn1, layer1, layer2", "conv1, bn1, layer1, layer2, layer3", "conv1, bn1, layer1, layer2, layer3, layer4", "conv1, bn1, layer1, layer2, layer3, layer4, deconv_layers"],
            "range": ["#bc80bd", "#fb8072", "#b3de69", "#fdb462", "#fccde5", "#8dd3c7"]
          },
          "legend": {
            "title": null,
            "orient": "none",
            "legendX": 11,
            "legendY": 265,
            "padding": 0,
            "symbolSize": 196,
            "symbolStrokeWidth": 1.5,
            "symbolStrokeColor": "black",
            "symbolOffset": 12.5,
            "labelFontSize": 20,
            "labelExpr": "''",
            "clipHeight": 22,
            "rowPadding": 3.8,
            "encode": {
              "symbols": {
                "update": {
                  "stroke": {"value": "black"},
                  "strokeWidth": {"value": 1.5},
                  "opacity": {"value": 1}
                }
              }
            }
          }
        }
      }
    }
  ]
}
